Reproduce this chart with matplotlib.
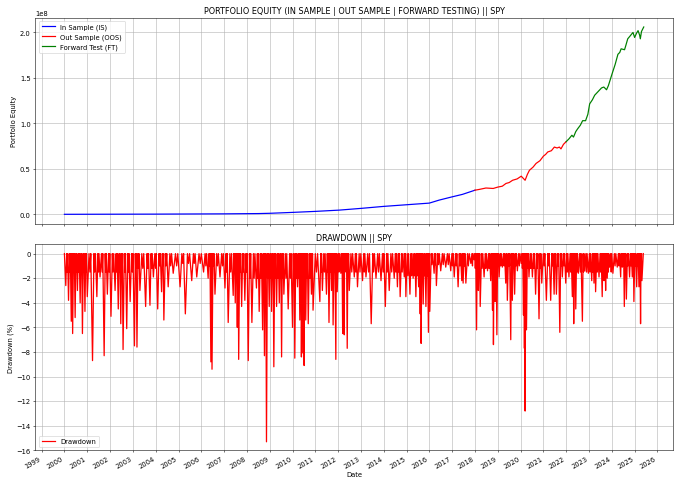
import numpy as np
import pandas as pd
import matplotlib
matplotlib.use("Agg")
import matplotlib.pyplot as plt
import matplotlib.dates as mdates

# ---------------- data ----------------
# Equity curve (decimal year, value in units of 1e8)
eq_years = [2000.0, 2002.0, 2004.0, 2005.0, 2006.0, 2007.0, 2008.0, 2008.5, 2009.0,
            2010.0, 2011.0, 2012.05, 2013.0, 2014.0, 2015.0, 2016.0, 2016.43,
            2017.0, 2017.45, 2018.0, 2018.2, 2018.48, 2018.8, 2019.0, 2019.2, 2019.36,
            2019.5, 2019.65, 2019.85, 2020.03, 2020.2, 2020.3, 2020.39, 2020.55,
            2020.68, 2020.85, 2021.0, 2021.1, 2021.19, 2021.35, 2021.48, 2021.6,
            2021.7, 2021.77, 2021.88, 2022.0, 2022.12, 2022.25, 2022.32, 2022.42,
            2022.5, 2022.62, 2022.72, 2022.85, 2022.95, 2023.03, 2023.15, 2023.25,
            2023.4, 2023.55, 2023.65, 2023.77, 2023.85, 2024.02, 2024.15, 2024.27,
            2024.35, 2024.41, 2024.56, 2024.62, 2024.7, 2024.8, 2024.93, 2025.0,
            2025.08, 2025.15, 2025.22, 2025.25, 2025.3, 2025.4]
eq_values = [0.001, 0.002, 0.003, 0.004, 0.005, 0.006, 0.008, 0.009, 0.012,
             0.022, 0.033, 0.047, 0.066, 0.088, 0.106, 0.124, 0.157,
             0.193, 0.22, 0.266, 0.275, 0.29, 0.285, 0.30, 0.31, 0.34,
             0.35, 0.375, 0.39, 0.42, 0.375, 0.44, 0.485, 0.52,
             0.56, 0.59, 0.64, 0.66, 0.686, 0.70, 0.74, 0.73,
             0.74, 0.72, 0.77, 0.80, 0.83, 0.87, 0.85, 0.91,
             0.94, 0.98, 1.03, 1.03, 1.10, 1.215, 1.26, 1.31,
             1.35, 1.39, 1.40, 1.37, 1.415, 1.55, 1.65, 1.76,
             1.78, 1.82, 1.81, 1.86, 1.93, 1.96, 2.0, 1.945,
             1.99, 2.02, 1.97, 1.93, 2.01, 2.06]
oos_start = 2018.0
ft_start = 2022.0

# Drawdown troughs (decimal year, drawdown %)
dd_years = [2000.06, 2000.18, 2000.3, 2000.36, 2000.47, 2000.57, 2000.69, 2000.79, 2000.9, 2001.0,
            2001.23, 2001.42, 2001.56, 2001.74, 2001.88, 2002.04, 2002.22, 2002.36, 2002.47, 2002.57,
            2002.73, 2002.88, 2003.07, 2003.18, 2003.31, 2003.56, 2003.75, 2003.9, 2004.09, 2004.26,
            2004.36, 2004.55, 2004.77, 2005.07, 2005.3, 2005.58, 2005.8, 2006.1, 2006.3, 2006.42,
            2006.47, 2006.6, 2006.82, 2007.04, 2007.18, 2007.4, 2007.49, 2007.58, 2007.64, 2007.77,
            2007.91, 2008.06, 2008.22, 2008.42, 2008.54, 2008.69, 2008.77, 2008.86, 2008.98, 2009.08,
            2009.18, 2009.3, 2009.42, 2009.52, 2009.62, 2009.81, 2010.0, 2010.1, 2010.22, 2010.32,
            2010.39, 2010.47, 2010.51, 2010.58, 2010.69, 2010.83, 2010.9, 2011.2, 2011.31, 2011.49,
            2011.6, 2011.71, 2011.78, 2011.9, 2011.96, 2012.12, 2012.2, 2012.27, 2012.31, 2012.4,
            2012.49, 2012.71, 2012.85, 2013.07, 2013.22, 2013.45, 2013.66, 2013.88, 2014.07, 2014.24,
            2014.46, 2014.6, 2014.72, 2014.9, 2014.97, 2015.15, 2015.29, 2015.41, 2015.53, 2015.6,
            2015.64, 2015.73, 2015.85, 2015.96, 2016.02, 2016.21, 2016.31, 2016.5, 2016.72, 2016.94,
            2017.09, 2017.26, 2017.42, 2017.48, 2017.6, 2017.82, 2017.96, 2018.07, 2018.15, 2018.23,
            2018.4, 2018.55, 2018.69, 2018.77, 2018.81, 2018.88, 2018.96, 2019.06, 2019.2, 2019.35,
            2019.42, 2019.57, 2019.64, 2019.74, 2019.86, 2020.03, 2020.13, 2020.17, 2020.2, 2020.26,
            2020.37, 2020.52, 2020.66, 2020.81, 2020.93, 2021.13, 2021.32, 2021.47, 2021.57, 2021.72,
            2021.83, 2021.98, 2022.12, 2022.27, 2022.33, 2022.42, 2022.53, 2022.71, 2022.81, 2022.97,
            2023.12, 2023.22, 2023.29, 2023.44, 2023.58, 2023.66, 2023.73, 2023.8, 2023.9, 2024.05,
            2024.24, 2024.39, 2024.46, 2024.55, 2024.64, 2024.78, 2024.9, 2024.97, 2025.09, 2025.19,
            2025.26, 2025.32]
dd_depths = [-2.6, -3.8, -5.5, -6.5, -5.2, -3.0, -4.0, -6.5, -4.7, -3.5,
             -8.7, -3.5, -1.9, -8.3, -3.3, -5.1, -3.0, -4.5, -5.7, -7.8,
             -6.1, -3.9, -7.5, -7.6, -3.0, -4.3, -4.2, -1.9, -4.5, -3.1,
             -5.4, -2.7, -1.6, -2.7, -4.9, -2.2, -1.9, -1.5, -2.0, -8.8,
             -9.4, -3.3, -1.9, -2.8, -5.6, -3.4, -4.0, -6.0, -8.6, -4.3,
             -3.8, -8.7, -5.6, -2.8, -4.7, -6.2, -8.3, -15.3, -4.3, -4.7,
             -9.2, -4.3, -4.0, -8.4, -3.3, -4.5, -6.0, -8.5, -2.7, -5.4,
             -8.4, -8.1, -9.1, -5.4, -5.7, -3.3, -4.6, -3.9, -3.0, -3.3,
             -5.6, -3.0, -5.8, -8.6, -3.1, -1.6, -6.5, -6.6, -1.4, -7.7,
             -3.0, -1.9, -2.7, -2.2, -1.9, -5.7, -2.0, -2.2, -4.3, -3.0,
             -2.0, -2.7, -3.5, -1.9, -3.5, -3.3, -2.0, -3.5, -2.7, -4.9,
             -7.3, -4.1, -4.3, -6.4, -4.7, -1.6, -2.6, -1.4, -1.1, -1.4,
             -1.9, -2.7, -2.2, -2.4, -2.4, -0.8, -0.5, -6.2, -3.0, -4.3,
             -1.9, -1.4, -2.2, -4.6, -7.4, -3.9, -6.6, -1.9, -1.1, -2.4,
             -3.8, -7.0, -3.8, -3.3, -1.4, -0.8, -5.0, -7.7, -12.8, -6.2,
             -1.9, -1.9, -3.3, -5.3, -2.4, -3.8, -3.8, -3.3, -3.3, -6.4,
             -1.9, -2.4, -1.9, -3.5, -5.7, -4.5, -1.6, -5.5, -1.4, -1.6,
             -2.2, -2.4, -3.1, -1.9, -3.5, -2.2, -3.0, -2.0, -1.1, -1.6,
             -1.1, -1.9, -1.1, -4.3, -3.7, -1.9, -1.9, -3.9, -2.7, -2.7,
             -5.7, -2.2]
# depth of the solid band of small daily dips near zero, per calendar year 2000..2025
band_years = list(range(2000, 2026))
band_depths = [-1.5, -1.5, -1.5, -1.2, -1.0, -0.8, -1.0, -1.5, -2.0, -2.0,
               -2.0, -1.5, -1.5, -1.5, -1.5, -1.8, -0.9, -1.0, -1.2, -1.0,
               -1.2, -1.0, -1.5, -1.5, -1.0, -1.0]
dd_start, dd_end = 2000.0, 2025.38


def to_dates(years):
    years = np.asarray(years, dtype=float)
    out = []
    for y in years:
        w = int(np.floor(y))
        start = pd.Timestamp(year=w, month=1, day=1)
        out.append(start + pd.Timedelta(days=float((y - w) * 365.25)))
    return pd.DatetimeIndex(out)


# equity segments
eq_y = np.array(eq_years)
eq_v = np.array(eq_values) * 1e8
is_mask = eq_y <= oos_start
oos_mask = (eq_y >= oos_start) & (eq_y <= ft_start)
ft_mask = eq_y >= ft_start

# drawdown path: trough -> 0 -> small dip (band) -> 0 -> next trough
band_map = dict(zip(band_years, band_depths))
dy = np.array(dd_years)
dd_x = [dd_start]
dd_v = [0.0]
for i, (yr, d) in enumerate(zip(dy, dd_depths)):
    if i > 0:
        a, b = dy[i - 1], yr
        gap = b - a
        dd_x += [a + gap / 3, a + gap / 2, a + 2 * gap / 3]
        dd_v += [0.0, band_map[int(a + gap / 2)], 0.0]
    dd_x.append(yr)
    dd_v.append(d)
dd_x.append(dd_end)
dd_v.append(0.0)

# ---------------- plot ----------------
fig, (ax1, ax2) = plt.subplots(2, 1, figsize=(14, 10), dpi=680 / 14, sharex=True)

ax1.plot(to_dates(eq_y[is_mask]), eq_v[is_mask], color="blue", lw=1.8, label="In Sample (IS)")
ax1.plot(to_dates(eq_y[oos_mask]), eq_v[oos_mask], color="red", lw=1.8, label="Out Sample (OOS)")
ax1.plot(to_dates(eq_y[ft_mask]), eq_v[ft_mask], color="green", lw=1.8, label="Forward Test (FT)")
ax1.set_title("PORTFOLIO EQUITY (IN SAMPLE | OUT SAMPLE | FORWARD TESTING) || SPY")
ax1.set_ylabel("Portfolio Equity")
ax1.legend(loc="upper left")
ax1.grid(True)

ax2.plot(to_dates(dd_x), dd_v, color="red", lw=1.9, label="Drawdown")
ax2.set_title("DRAWDOWN || SPY")
ax2.set_ylabel("Drawdown (%)")
ax2.set_xlabel("Date")
leg = ax2.legend(loc="lower left")
for ln in leg.get_lines():
    ln.set_linewidth(1.8)
ax2.grid(True)
ax2.set_ylim(-16, 0.75)

ax2.xaxis.set_major_locator(mdates.YearLocator())
ax2.xaxis.set_major_formatter(mdates.DateFormatter("%Y"))
fig.autofmt_xdate()
ax1.tick_params(axis="x", labelbottom=False)

fig.tight_layout()
fig.savefig("out.png", dpi=680 / 14)
